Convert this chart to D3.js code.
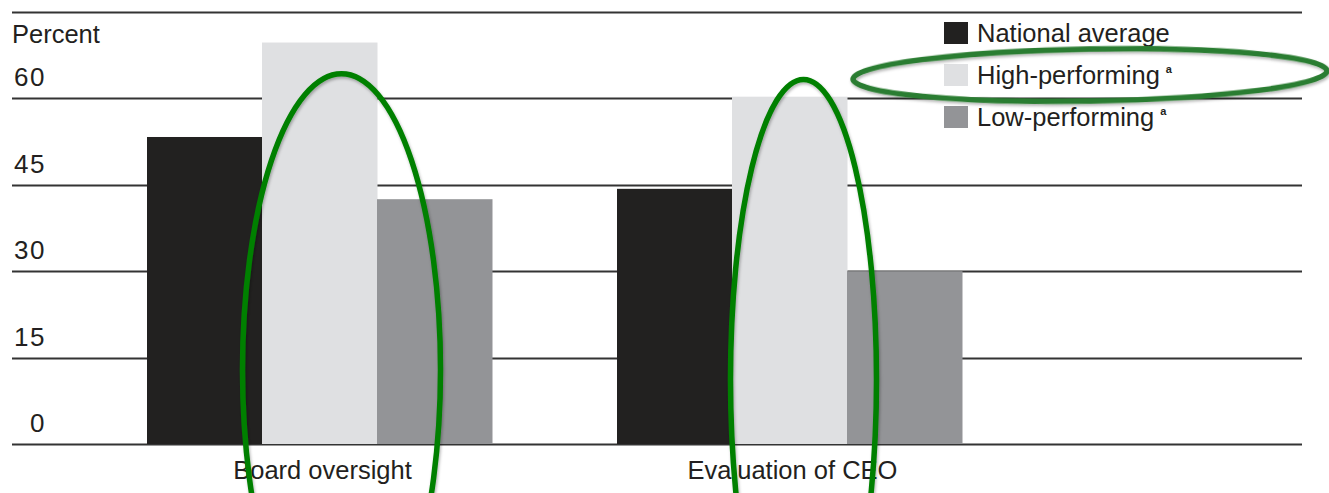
<!DOCTYPE html>
<html>
<head>
<meta charset="utf-8">
<script src="https://cdn.jsdelivr.net/npm/d3@7"></script>
<style>
  html,body{margin:0;padding:0;background:#fff;}
  svg{display:block;font-family:"Liberation Sans",Arial,sans-serif;}
  .grid line{stroke:#333;stroke-width:2;}
  text{fill:#231f20;}
</style>
</head>
<body>
<svg id="chart" width="1329" height="493"></svg>
<script>
let categories=["Board oversight","Evaluation of CEO"];
let seriesNames=["National average","High-performing","Low-performing"];
let national=[53.3,44.3];
let high=[69.7,60.3];
let low=[42.5,30.0];
let yTicks=[0,15,30,45,60,75];
let yLabels=["0","15","30","45","60",""];
let colors=["#222120","#dfe0e2","#939497"];
let footnote=["","a","a"];

const svg=d3.select("#chart");
const left=12,right=1302;
const fs="25.5px";

let y=d3.scaleLinear().domain([0,75]).range([444,12]);
let x0=d3.scaleBand().domain(categories).range([147,962]).paddingInner(125/470).paddingOuter(0);
let x1=d3.scaleBand().domain(seriesNames).range([0,x0.bandwidth()]);
let color=d3.scaleOrdinal().domain(seriesNames).range(colors);

let defs=svg.append("defs");
defs.append("filter").attr("id","shadow")
  .attr("x","-20%").attr("y","-20%").attr("width","140%").attr("height","140%")
  .append("feDropShadow")
    .attr("dx",1).attr("dy",2).attr("stdDeviation",1.5)
    .attr("flood-color","#000").attr("flood-opacity",0.3);

// gridlines
let grid=svg.append("g").attr("class","grid");
grid.selectAll("line")
  .data(yTicks)
  .enter()
    .append("line")
    .attr("x1",left)
    .attr("x2",right)
    .attr("y1",(d)=>Math.round(y(d))+0.5)
    .attr("y2",(d)=>Math.round(y(d))+0.5);

// tick labels, sitting above each line
svg.append("g").selectAll("text")
  .data(yTicks)
  .enter()
    .append("text")
    .attr("x",46)
    .attr("y",(d)=>y(d)-12)
    .attr("text-anchor","end")
    .style("font-size","26px")
    .style("letter-spacing","1.5px")
    .text((d,i)=>yLabels[i]);

svg.append("text")
  .attr("x",left)
  .attr("y",43)
  .style("font-size",fs)
  .text("Percent");

// bars
let rows=categories.map((c,i)=>({cat:c,vals:[national[i],high[i],low[i]]}));
let group=svg.append("g").selectAll("g")
  .data(rows)
  .enter()
    .append("g")
    .attr("transform",(d)=>`translate(${x0(d.cat)},0)`);

group.selectAll("rect")
  .data((d)=>d.vals.map((v,j)=>({name:seriesNames[j],value:v})))
  .enter()
    .append("rect")
    .attr("x",(d)=>x1(d.name))
    .attr("width",x1.bandwidth()+0.5)
    .attr("y",(d)=>y(d.value))
    .attr("height",(d)=>y(0)-y(d.value))
    .attr("fill",(d)=>color(d.name));

// category labels
svg.append("g").selectAll("text")
  .data(categories)
  .enter()
    .append("text")
    .attr("x",(d)=>x0(d)+x0.bandwidth()/2+3)
    .attr("y",479)
    .attr("text-anchor","middle")
    .style("font-size",fs)
    .text((d)=>d);

// legend
let legend=svg.append("g").selectAll("g")
  .data(seriesNames)
  .enter()
    .append("g")
    .attr("transform",(d,i)=>`translate(944,${22+i*42})`);
legend.append("rect")
  .attr("width",24)
  .attr("height",22)
  .attr("fill",(d)=>color(d));
let lt=legend.append("text")
  .attr("x",33)
  .attr("y",20)
  .style("font-size",fs);
lt.append("tspan").text((d)=>d);
lt.append("tspan")
  .attr("dx",6)
  .attr("dy",-11)
  .style("font-size","11px")
  .style("font-weight","bold")
  .text((d,i)=>footnote[i]);

// green hand-drawn highlight ellipses
let marks=[
  {cx:x0("Board oversight")+x1("High-performing")+x1.bandwidth()/2+22,cy:y(12.9),rx:99,ry:296,rot:0,c:"#008000",w:5.5},
  {cx:x0("Evaluation of CEO")+x1("High-performing")+x1.bandwidth()/2+14,cy:y(11.2),rx:73,ry:300,rot:0,c:"#008000",w:5.5},
  {cx:1090,cy:75,rx:237,ry:26,rot:-1,c:"#2a7d30",w:5.5}
];
svg.append("g").selectAll("ellipse")
  .data(marks)
  .enter()
    .append("ellipse")
    .attr("cx",(d)=>d.cx)
    .attr("cy",(d)=>d.cy)
    .attr("rx",(d)=>d.rx)
    .attr("ry",(d)=>d.ry)
    .attr("transform",(d)=>`rotate(${d.rot},${d.cx},${d.cy})`)
    .attr("fill","none")
    .attr("stroke",(d)=>d.c)
    .attr("stroke-width",(d)=>d.w)
    .attr("filter","url(#shadow)");
</script>
</body>
</html>
